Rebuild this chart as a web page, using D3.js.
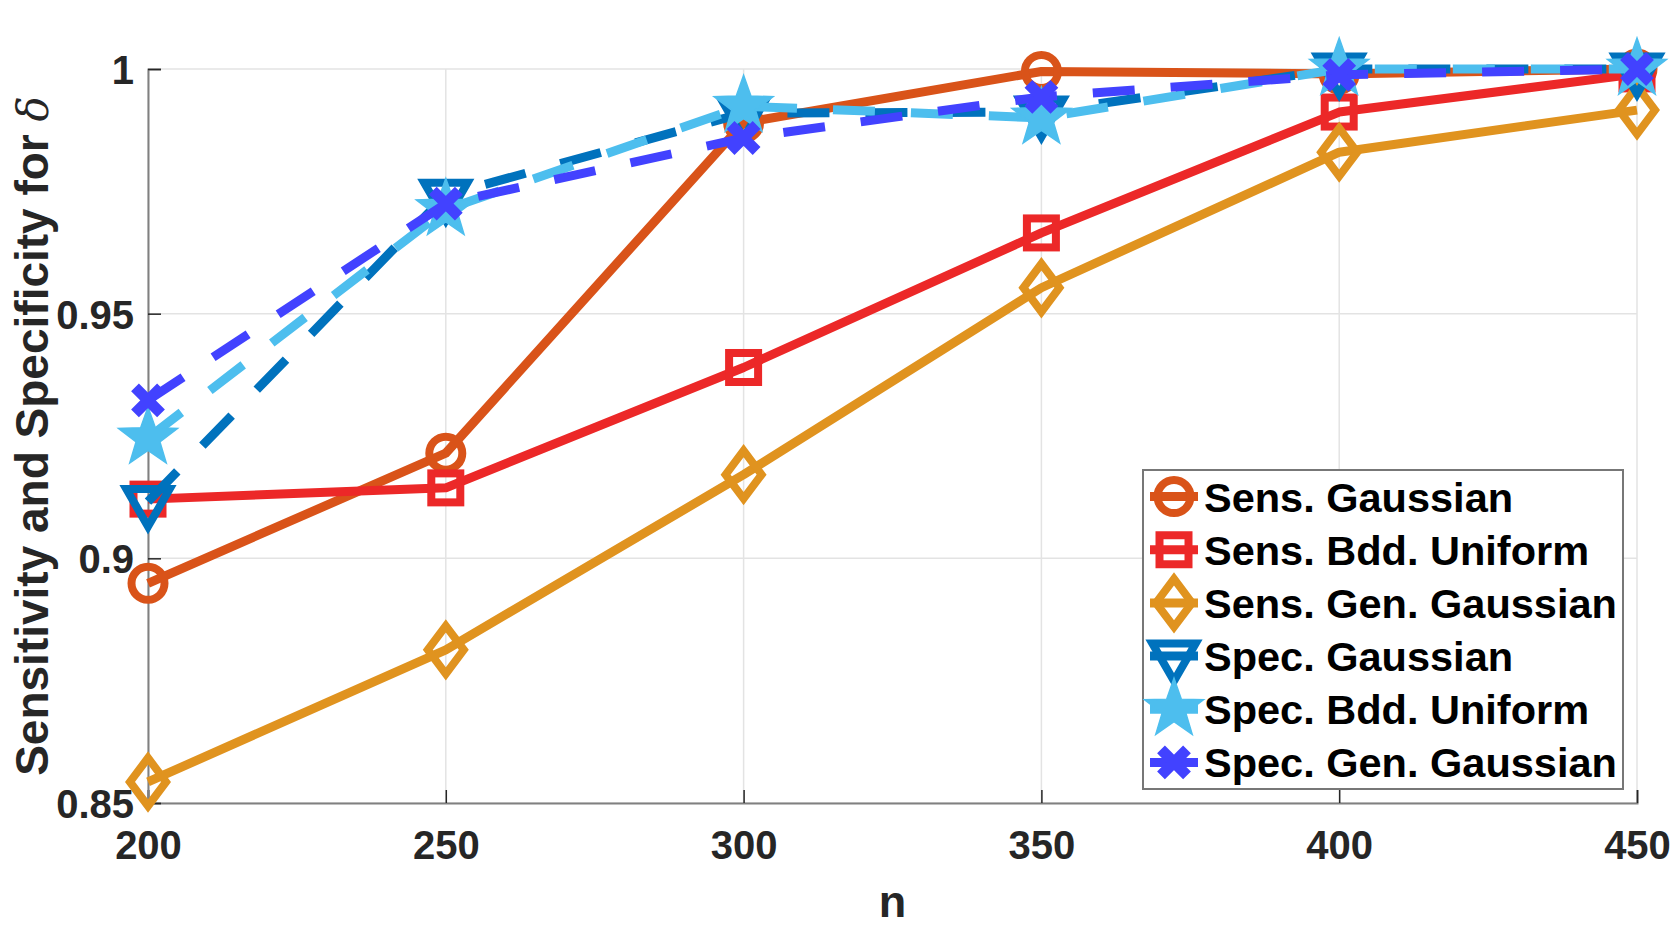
<!DOCTYPE html>
<html>
<head>
<meta charset="utf-8">
<script src="https://cdn.jsdelivr.net/npm/d3@7"></script>
<style>
  html, body { margin: 0; padding: 0; background: #fff; }
  svg { display: block; }
  text { font-family: "Liberation Sans", Arial, Helvetica, sans-serif; font-weight: bold; }
</style>
</head>
<body>
<svg id="chart" width="1677" height="926"></svg>
<script>
// ---- data ----
const nValues = [200, 250, 300, 350, 400, 450];
const sensGaussian    = [0.8949, 0.9215, 0.9890, 0.9995, 0.9990, 1.0000];
const sensBddUniform  = [0.9121, 0.9144, 0.9390, 0.9665, 0.9912, 0.9990];
const sensGenGaussian = [0.8543, 0.8813, 0.9171, 0.9553, 0.9830, 0.9916];
const specGaussian    = [0.9116, 0.9742, 0.9910, 0.9912, 1.0000, 1.0000];
const specBddUniform  = [0.9246, 0.9713, 0.9924, 0.9900, 1.0000, 1.0000];
const specGenGaussian = [0.9323, 0.9725, 0.9859, 0.9943, 0.9988, 1.0000];
const seriesNames = ["Sens. Gaussian", "Sens. Bdd. Uniform", "Sens. Gen. Gaussian",
                     "Spec. Gaussian", "Spec. Bdd. Uniform", "Spec. Gen. Gaussian"];
const xTicks = [200, 250, 300, 350, 400, 450];
const yTicks = [0.85, 0.9, 0.95, 1];
const yTickLabels = ["0.85", "0.9", "0.95", "1"];
const xLabel = "n";
const yLabel = "Sensitivity and Specificity for ";

// ---- styles ----
const styles = [
  { color: "#D95319", marker: "circle",   dash: null },
  { color: "#EC2828", marker: "square",   dash: null },
  { color: "#E0931F", marker: "diamond",  dash: null },
  { color: "#0072BD", marker: "triDown",  dash: "42,36" },
  { color: "#4DBEEE", marker: "star",     dash: "42,36" },
  { color: "#4242FF", marker: "x",        dash: "42,36" }
];
const seriesValues = [sensGaussian, sensBddUniform, sensGenGaussian, specGaussian, specBddUniform, specGenGaussian];
const series = seriesNames.map((name, i) => ({
  name, values: seriesValues[i].map((v, j) => ({ n: nValues[j], v })), ...styles[i]
}));

const svg = d3.select("#chart");
const x = d3.scaleLinear().domain([200, 450]).range([148, 1637]);
const y = d3.scaleLinear().domain([0.85, 1]).range([803, 69]);

// grid
const grid = svg.append("g");
grid.selectAll("line.gx").data(xTicks).join("line")
  .attr("x1", d => x(d)).attr("x2", d => x(d)).attr("y1", y(0.85)).attr("y2", y(1))
  .attr("stroke", "#e3e3e3").attr("stroke-width", 1.5);
grid.selectAll("line.gy").data(yTicks).join("line")
  .attr("y1", d => y(d)).attr("y2", d => y(d)).attr("x1", x(200)).attr("x2", x(450))
  .attr("stroke", "#e3e3e3").attr("stroke-width", 1.5);

// axes
const xAxis = d3.axisBottom(x).tickValues(xTicks).tickSize(-13).tickPadding(28).tickFormat(d3.format("d"));
const yAxis = d3.axisLeft(y).tickValues(yTicks).tickSize(-13).tickPadding(14).tickFormat((d, i) => yTickLabels[i]);
const gx = svg.append("g").attr("transform", `translate(0,${y(0.85)})`).call(xAxis);
const gy = svg.append("g").attr("transform", `translate(${x(200)},0)`).call(yAxis);
[gx, gy].forEach(g => {
  g.select(".domain").attr("stroke", "#808080").attr("stroke-width", 2);
  g.selectAll(".tick line").attr("stroke", "#262626").attr("stroke-width", 1.5);
  g.selectAll(".tick text").attr("fill", "#262626").style("font-size", "40px")
    .style("font-family", "'Liberation Sans', Arial, sans-serif").style("font-weight", "bold");
});
gx.selectAll(".tick text").attr("dy", "0.71em");
gy.selectAll(".tick text").attr("dy", "0.36em");

// axis labels
svg.append("text").attr("x", (x(200) + x(450)) / 2).attr("y", 917)
  .attr("text-anchor", "middle").attr("fill", "#262626").style("font-size", "45px").text(xLabel);
const yl = svg.append("text").attr("transform", `translate(48,${(y(0.85) + y(1)) / 2}) rotate(-90)`)
  .attr("text-anchor", "middle").attr("fill", "#262626").style("font-size", "46px");
yl.append("tspan").text(yLabel);
yl.append("tspan").text("δ").style("font-family", "'DejaVu Serif', 'Liberation Serif', serif")
  .style("font-style", "italic").style("font-weight", "normal").style("font-size", "42px");

// marker drawing
function drawMarker(g, type, color) {
  const sw = 8;
  if (type === "circle") {
    g.append("circle").attr("r", 16.5).attr("fill", "none").attr("stroke", color).attr("stroke-width", sw);
  } else if (type === "square") {
    g.append("rect").attr("x", -14.5).attr("y", -14.5).attr("width", 29).attr("height", 29)
      .attr("fill", "none").attr("stroke", color).attr("stroke-width", sw);
  } else if (type === "diamond") {
    g.append("path").attr("d", "M0,-24L18,0L0,24L-18,0Z")
      .attr("fill", "none").attr("stroke", color).attr("stroke-width", sw);
  } else if (type === "triDown") {
    const R = 25;
    g.append("path").attr("d", `M0,${R}L${0.866 * R},${-R / 2}L${-0.866 * R},${-R / 2}Z`)
      .attr("fill", "none").attr("stroke", color).attr("stroke-width", sw);
  } else if (type === "star") {
    const R = 31, r = 12.5;
    const pts = d3.range(10).map(k => {
      const a = -Math.PI / 2 + k * Math.PI / 5;
      const rr = k % 2 === 0 ? R : r;
      return [rr * Math.cos(a), rr * Math.sin(a)];
    });
    g.append("path").attr("d", "M" + pts.map(p => p.join(",")).join("L") + "Z")
      .attr("fill", color).attr("stroke", color).attr("stroke-width", 1.5);
  } else if (type === "x") {
    const h = 13;
    g.append("path").attr("d", `M${-h},${-h}L${h},${h}M${-h},${h}L${h},${-h}`)
      .attr("fill", "none").attr("stroke", color).attr("stroke-width", 11);
  }
}

// series
const line = d3.line().x(d => x(d.n)).y(d => y(d.v));
series.forEach(s => {
  const g = svg.append("g");
  g.append("path").datum(s.values).attr("d", line)
    .attr("fill", "none").attr("stroke", s.color).attr("stroke-width", 9)
    .attr("stroke-dasharray", s.dash).attr("stroke-linejoin", "round");
  s.values.forEach(d => {
    const mg = g.append("g").attr("transform", `translate(${x(d.n)},${y(d.v)})`);
    drawMarker(mg, s.marker, s.color);
  });
});

// legend
const lg = svg.append("g");
const lx = 1143, ly = 470, lw = 480, lh = 319, rowH = lh / series.length;
lg.append("rect").attr("x", lx).attr("y", ly).attr("width", lw).attr("height", lh)
  .attr("fill", "#fff").attr("stroke", "#777").attr("stroke-width", 2);
series.forEach((s, i) => {
  const cy = ly + rowH * (i + 0.5);
  lg.append("line").attr("x1", lx + 7).attr("x2", lx + 55).attr("y1", cy).attr("y2", cy)
    .attr("stroke", s.color).attr("stroke-width", 9);
  const mg = lg.append("g").attr("transform", `translate(${lx + 31},${cy})`);
  drawMarker(mg, s.marker, s.color);
  lg.append("text").attr("x", lx + 61).attr("y", cy).attr("dy", "0.36em")
    .attr("fill", "#000").style("font-size", "41.5px").text(s.name);
});
</script>
</body>
</html>
